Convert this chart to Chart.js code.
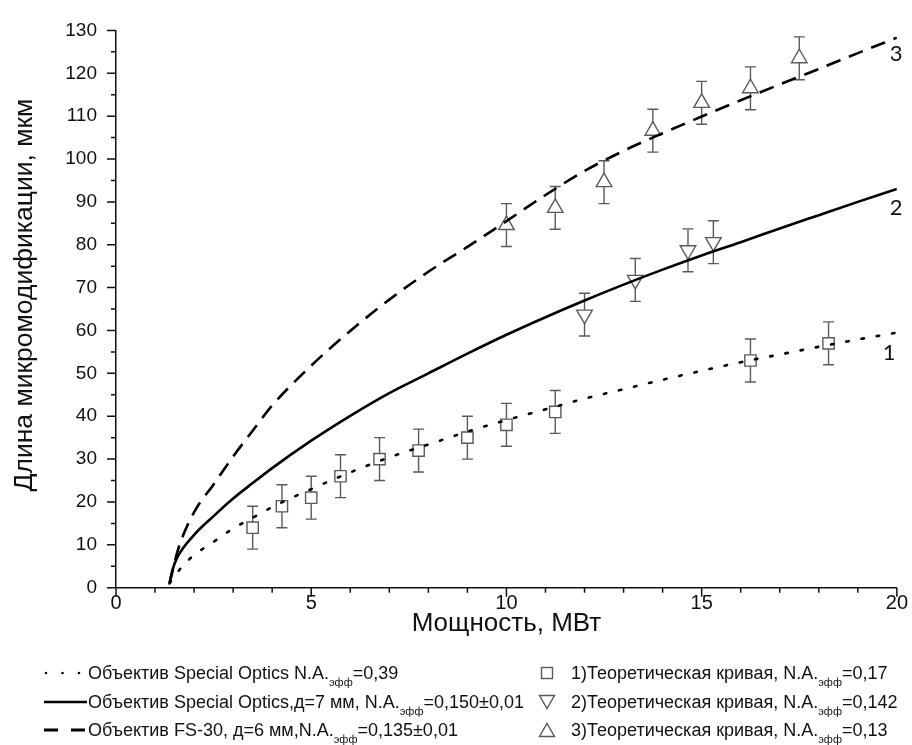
<!DOCTYPE html>
<html>
<head>
<meta charset="utf-8">
<script src="https://cdn.jsdelivr.net/npm/chart.js@4.4.1/dist/chart.umd.min.js"></script>
<style>
  body { margin: 0; background: #fff; }
  #wrap { position: relative; width: 912px; height: 745px; }
  #chart { position: absolute; left: 0; top: 0; }
  .leg { position: absolute; height: 22px; line-height: 22px; font-family: "Liberation Sans", Arial, sans-serif;
         font-size: 18px; color: #111; white-space: nowrap; }
  .leg sub { font-size: 11px; vertical-align: -7px; line-height: 0; }
  .leg svg { position: absolute; top: 0; }
</style>
</head>
<body>
<div id="wrap">
  <canvas id="chart" width="912" height="745"></canvas>
  <div id="legend"></div>
</div>
<script>
// Fitted curves
const curve1X = [1.37, 1.7, 2, 2.5, 3, 3.5, 4, 5, 6, 7, 8, 9, 10, 11, 12, 13, 14, 15, 16, 17, 18, 19, 20];
const curve1Y = [1, 5, 7.6, 10.7, 13.8, 16.3, 18.8, 23, 26.9, 30.4, 33.4, 36.4, 39.1, 41.6, 44.1, 46.3, 48.5, 50.6, 52.6, 54.4, 56.2, 57.9, 59.5];

const curve2X = [1.37, 1.45, 1.56, 2, 2.5, 3, 3.5, 4, 5, 6, 7, 8, 9, 10, 11, 12, 13, 14, 15, 16, 17, 18, 19, 20];
const curve2Y = [1, 4.2, 6.9, 12.3, 16.7, 20.8, 24.4, 27.9, 34.3, 40.1, 45.4, 50, 54.6, 59, 63.1, 67, 70.7, 74.2, 77.5, 80.6, 83.8, 86.9, 90, 93];

const curve3X = [1.37, 1.6, 2, 2.5, 3, 3.5, 4, 5, 6, 7, 8, 9, 10, 11, 12, 13, 14, 15, 16, 17, 18, 19, 20];
const curve3Y = [1, 9.2, 17.6, 24.1, 30.6, 36.6, 42.5, 51.8, 59.9, 67.2, 73.7, 79.5, 85.5, 91.6, 97.2, 101.9, 106, 109.9, 113.7, 117.4, 121, 124.7, 128.3];

// Theoretical points with error bars
const theory1X = [3.5, 4.25, 5, 5.75, 6.75, 7.75, 9, 10, 11.25, 16.25, 18.25];
const theory1Y = [14, 19, 21, 26, 30, 32, 35, 38, 41, 53, 57];
const theory1Err = [5, 5, 5, 5, 5, 5, 5, 5, 5, 5, 5];

const theory2X = [12, 13.3, 14.65, 15.3];
const theory2Y = [63.7, 71.8, 78.7, 80.6];
const theory2Err = [5, 5, 5, 5];

const theory3X = [10, 11.25, 12.5, 13.75, 15, 16.25, 17.5];
const theory3Y = [84.6, 88.6, 94.6, 106.6, 113.1, 116.5, 123.5];
const theory3Err = [5, 5, 5, 5, 5, 5, 5];

const xTitle = 'Мощность, МВт';
const yTitle = 'Длина микромодификации, мкм';
const curveNames = ['1', '2', '3'];

const lineLegend = [
  ['Объектив Special Optics N.A.', 'эфф', '=0,39'],
  ['Объектив Special Optics,д=7 мм, N.A.', 'эфф', '=0,150±0,01'],
  ['Объектив FS-30, д=6 мм,N.A.', 'эфф', '=0,135±0,01']
];
const pointLegend = [
  ['1)Теоретическая кривая, N.A.', 'эфф', '=0,17'],
  ['2)Теоретическая кривая, N.A.', 'эфф', '=0,142'],
  ['3)Теоретическая кривая, N.A.', 'эфф', '=0,13']
];

const pts = (xs, ys) => xs.map((x, i) => ({ x: x, y: ys[i] }));

const GREY = '#5a5a5a';

// error bars under the markers
const errorBars = {
  id: 'errorBars',
  beforeDatasetsDraw(chart) {
    const { ctx, scales: { y } } = chart;
    ctx.save();
    ctx.strokeStyle = GREY;
    ctx.lineWidth = 1.4;
    chart.data.datasets.forEach((ds, i) => {
      if (!ds.errors) return;
      const meta = chart.getDatasetMeta(i);
      meta.data.forEach((pt, j) => {
        const v = ds.data[j].y, e = ds.errors[j];
        const top = y.getPixelForValue(v + e), bot = y.getPixelForValue(v - e);
        ctx.beginPath();
        ctx.moveTo(pt.x, top); ctx.lineTo(pt.x, bot);
        ctx.moveTo(pt.x - 5.5, top); ctx.lineTo(pt.x + 5.5, top);
        ctx.moveTo(pt.x - 5.5, bot); ctx.lineTo(pt.x + 5.5, bot);
        ctx.stroke();
      });
    });
    ctx.restore();
  }
};

// major + minor tick marks, y title and the 1/2/3 curve numbers
const axisDecor = {
  id: 'axisDecor',
  afterDraw(chart) {
    const { ctx, chartArea, scales: { x, y } } = chart;
    ctx.save();
    ctx.strokeStyle = '#111';
    ctx.lineWidth = 1.5;
    ctx.beginPath();
    for (let v = x.min; v <= x.max; v += 1) {
      const px = x.getPixelForValue(v);
      const len = v % 5 === 0 ? 9 : 5;
      ctx.moveTo(px, chartArea.bottom); ctx.lineTo(px, chartArea.bottom + len);
    }
    for (let v = y.min; v <= y.max; v += 5) {
      const py = y.getPixelForValue(v);
      const len = v % 10 === 0 ? 9 : 5;
      ctx.moveTo(chartArea.left, py); ctx.lineTo(chartArea.left - len, py);
    }
    ctx.stroke();

    ctx.fillStyle = '#111';
    ctx.textAlign = 'center';
    ctx.textBaseline = 'middle';

    // y axis title, a little above the axis middle like the original
    ctx.save();
    ctx.translate(25, chartArea.top + (chartArea.bottom - chartArea.top) * 0.475);
    ctx.rotate(-Math.PI / 2);
    ctx.font = '26.5px "Liberation Sans", Arial, sans-serif';
    ctx.fillText(yTitle, 0, 0);
    ctx.restore();

    ctx.font = '22px Lato, "Open Sans", sans-serif';
    const spots = [[19.8, 54.8], [19.98, 88.5], [19.98, 124.6]];
    curveNames.forEach((t, i) => {
      ctx.fillText(t, x.getPixelForValue(spots[i][0]), y.getPixelForValue(spots[i][1]));
    });
    ctx.restore();
  }
};

const ctx = document.getElementById('chart').getContext('2d');
const chart = new Chart(ctx, {
  type: 'scatter',
  data: {
    datasets: [
      { type: 'line', data: pts(curve1X, curve1Y), borderColor: '#000', borderWidth: 2.6,
        borderDash: [2.5, 13], borderCapStyle: 'round', pointRadius: 0, cubicInterpolationMode: 'monotone', order: 0 },
      { type: 'line', data: pts(curve2X, curve2Y), borderColor: '#000', borderWidth: 2.6,
        pointRadius: 0, cubicInterpolationMode: 'monotone', order: 0 },
      { type: 'line', data: pts(curve3X, curve3Y), borderColor: '#000', borderWidth: 2.6,
        borderDash: [15, 9], pointRadius: 0, cubicInterpolationMode: 'monotone', order: 0 },
      { data: pts(theory1X, theory1Y), errors: theory1Err, pointStyle: 'rect', pointRadius: 8,
        borderColor: GREY, backgroundColor: '#fff', borderWidth: 1.4, order: 1 },
      { data: pts(theory2X, theory2Y), errors: theory2Err, pointStyle: 'triangle', rotation: 180, pointRadius: 9,
        borderColor: GREY, backgroundColor: '#fff', borderWidth: 1.4, order: 1 },
      { data: pts(theory3X, theory3Y), errors: theory3Err, pointStyle: 'triangle', pointRadius: 9,
        borderColor: GREY, backgroundColor: '#fff', borderWidth: 1.4, order: 1 }
    ]
  },
  options: {
    responsive: false,
    animation: false,
    events: [],
    layout: { padding: { left: 0, right: 14, top: 20.7, bottom: 105.3 } },
    plugins: { legend: { display: false }, tooltip: { enabled: false } },
    scales: {
      x: {
        type: 'linear', min: 0, max: 20,
        afterFit: (s) => { s.height = 52; },
        grid: { drawOnChartArea: false, drawTicks: false },
        border: { color: '#111', width: 1.5 },
        ticks: { stepSize: 5, padding: 4, color: '#111', font: { family: '"Liberation Sans", Arial', size: 20 } },
        title: { display: true, text: xTitle, color: '#111', padding: { top: 0, bottom: 0 },
          font: { family: '"Liberation Sans", Arial', size: 26 } }
      },
      y: {
        type: 'linear', min: 0, max: 130,
        afterFit: (s) => { s.width = 116; },
        grid: { drawOnChartArea: false, drawTicks: false },
        border: { color: '#111', width: 1.5 },
        ticks: { stepSize: 10, padding: 19, color: '#111', font: { family: '"Liberation Sans", Arial', size: 19 } },
        title: { display: false }
      }
    }
  },
  plugins: [errorBars, axisDecor]
});

// Legend below the chart (two columns)
const legendBox = document.getElementById('legend');
const rowTop = [662, 691, 719];

function addRow(parts, top, left, textLeft, sample) {
  const row = document.createElement('div');
  row.className = 'leg';
  row.style.top = top + 'px';
  row.style.left = left + 'px';
  row.innerHTML = sample + '<span style="position:absolute;left:' + (textLeft - left) + 'px">' +
    parts[0] + '<sub>' + parts[1] + '</sub>' + parts[2] + '</span>';
  legendBox.appendChild(row);
}

const lineSamples = [
  '<svg width="46" height="22"><line x1="2" y1="11" x2="36" y2="11" stroke="#000" stroke-width="2.6" stroke-dasharray="0 16.5" stroke-linecap="round"/></svg>',
  '<svg width="46" height="22"><line x1="0" y1="11" x2="43" y2="11" stroke="#000" stroke-width="2.6"/></svg>',
  '<svg width="46" height="22"><line x1="0" y1="11" x2="42" y2="11" stroke="#000" stroke-width="2.8" stroke-dasharray="14 13"/></svg>'
];
const pointSamples = [
  '<svg width="18" height="22"><rect x="3.5" y="5.5" width="11" height="11" fill="#fff" stroke="' + GREY + '" stroke-width="1.4"/></svg>',
  '<svg width="18" height="22"><polygon points="1.5,4.5 16.5,4.5 9,17.5" fill="#fff" stroke="' + GREY + '" stroke-width="1.4"/></svg>',
  '<svg width="18" height="22"><polygon points="1.5,17.5 16.5,17.5 9,4.5" fill="#fff" stroke="' + GREY + '" stroke-width="1.4"/></svg>'
];

lineLegend.forEach((p, i) => addRow(p, rowTop[i], 44, 88, lineSamples[i]));
pointLegend.forEach((p, i) => addRow(p, rowTop[i], 538, 571, pointSamples[i]));
</script>
</body>
</html>
